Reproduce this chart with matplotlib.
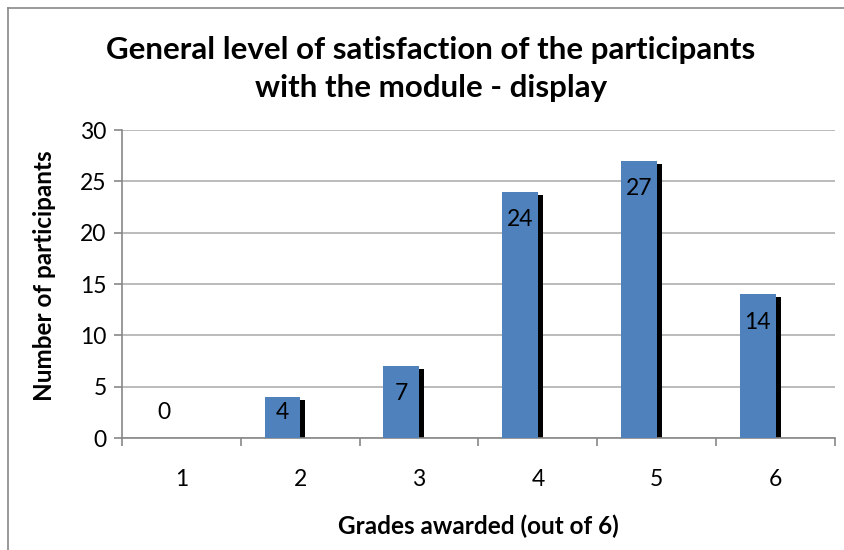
import numpy as np
import matplotlib.pyplot as plt
from matplotlib.lines import Line2D

# grades and number of participants
grades = ['1', '2', '3', '4', '5', '6']
counts = [0, 4, 7, 24, 27, 14]

title = 'General level of satisfaction of the participants\nwith the module - display'
xlabel = 'Grades awarded (out of 6)'
ylabel = 'Number of participants'

plt.rcParams['font.family'] = ['Lato', 'DejaVu Sans']

fig = plt.figure(figsize=(8.45, 5.5), dpi=100)
ax = fig.add_axes([0.1444, 0.2036, 0.8437, 0.56])

x = np.arange(len(grades))
width = 0.3
blue = '#4F81BD'

# shadow behind the bars (offset right/down)
shadow_dx = 5 / 118.8
shadow_dy = 3 / 10.27
ax.bar(x - width / 2 + shadow_dx, np.maximum(np.array(counts) - shadow_dy, 0), width,
       color='black', zorder=2)
ax.bar(x - width / 2, counts, width, color=blue, zorder=3)

# data labels inside the top of each bar
for xi, v in zip(x, counts):
    ypos = max(v - 2.7, 2.5)
    ax.text(xi - width / 2, ypos, str(v), ha='center', va='center',
            fontsize=16.5, color='black', zorder=4)

ax.set_xlim(-0.5, len(grades) - 0.5)
ax.set_ylim(0, 30)
ax.set_yticks(range(0, 31, 5))
ax.set_xticks(x)
ax.set_xticklabels(grades)
ax.set_xticks(np.arange(-0.5, len(grades)), minor=True)
ax.tick_params(axis='x', which='major', length=0, pad=22, labelsize=16.5)
ax.tick_params(axis='x', which='minor', length=6, color='#888888', width=1.2)
ax.tick_params(axis='y', length=6, color='#888888', width=1.2, labelsize=16.5, pad=5)

ax.grid(axis='y', color='#BBBBBB', linewidth=1.4, zorder=0)
ax.set_axisbelow(True)
for s in ['top', 'right']:
    ax.spines[s].set_visible(False)
for s in ['left', 'bottom']:
    ax.spines[s].set_color('#888888')
    ax.spines[s].set_linewidth(1.2)

ax.set_xlabel(xlabel, fontsize=17.5, fontweight='bold', labelpad=18)
ax.set_ylabel(ylabel, fontsize=17.5, fontweight='bold')
ax.yaxis.set_label_coords(-0.092, 0.526)
fig.text(0.51, 0.875, title, ha='center', va='center', fontsize=22.5,
         fontweight='bold', linespacing=1.45)

# chart border (only top and left visible in the crop)
fig.add_artist(Line2D([8 / 845, 8 / 845], [0, 1 - 8 / 550], color='#888888', lw=1.2))
fig.add_artist(Line2D([8 / 845, 1], [1 - 8 / 550, 1 - 8 / 550], color='#888888', lw=1.2))

fig.savefig('out.png', dpi=100)
